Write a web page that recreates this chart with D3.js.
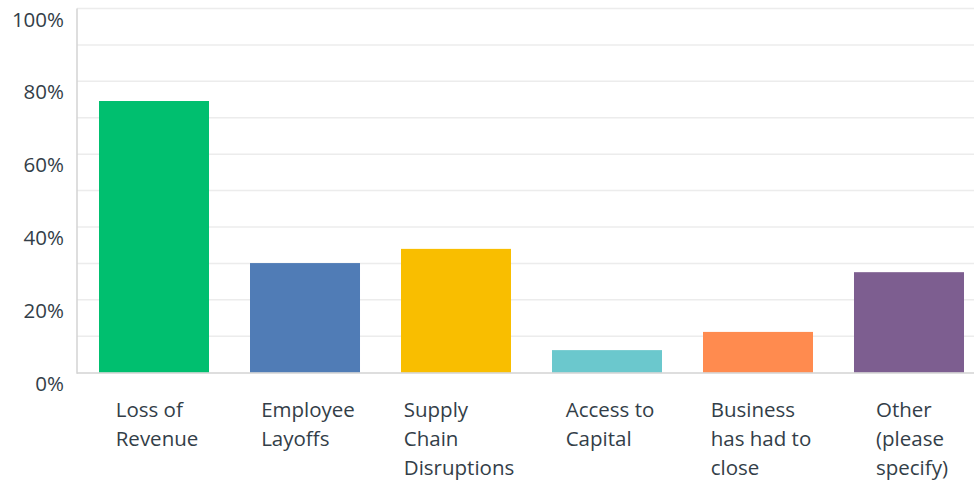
<!DOCTYPE html>
<html>
<head>
<meta charset="utf-8">
<script src="https://cdn.jsdelivr.net/npm/d3@7"></script>
<style>
  html, body { margin: 0; padding: 0; background: #fff; }
  svg { display: block; }
</style>
</head>
<body>
<svg id="chart" width="974" height="483"></svg>
<script>
// Response categories (each label split into its display lines)
const categories = [
  ["Loss of", "Revenue"],
  ["Employee", "Layoffs"],
  ["Supply", "Chain", "Disruptions"],
  ["Access to", "Capital"],
  ["Business", "has had to", "close"],
  ["Other", "(please", "specify)"]
];
// Share of respondents, percent
const values = [74.6, 30.1, 34.0, 6.2, 11.2, 27.6];
const colors = ["#00bf6f", "#507cb6", "#f9be00", "#6bc8cd", "#ff8b4f", "#7d5e90"];
const yTicks = [0, 20, 40, 60, 80, 100];
const gridTicks = [10, 20, 30, 40, 50, 60, 70, 80, 90, 100];

const svg = d3.select("#chart");
const plotLeft = 77, plotTop = 8.5, plotBottom = 372.7, plotRight = 986;
const textColor = "#333e48";
const font = "'Open Sans', sans-serif";

const keys = categories.map((d, i) => i);
const x = d3.scaleBand().domain(keys).range([plotLeft, plotRight])
  .paddingInner(0.2715).paddingOuter(0.1457);
const y = d3.scaleLinear().domain([0, 100]).range([plotBottom, plotTop]);

// Horizontal gridlines
svg.append("g").selectAll("line").data(gridTicks).join("line")
  .attr("x1", plotLeft).attr("x2", 974)
  .attr("y1", d => y(d)).attr("y2", d => y(d))
  .attr("stroke", "#ececec").attr("stroke-width", 1.5);

// Bars
svg.append("g").selectAll("rect").data(values).join("rect")
  .attr("x", (d, i) => x(i))
  .attr("width", x.bandwidth())
  .attr("y", d => y(d))
  .attr("height", d => y(0) - y(d))
  .attr("fill", (d, i) => colors[i]);

// Axis lines
svg.append("line").attr("x1", plotLeft).attr("x2", plotLeft).attr("y1", plotTop).attr("y2", plotBottom + 1)
  .attr("stroke", "#d3d3d3").attr("stroke-width", 1.5);
svg.append("line").attr("x1", plotLeft).attr("x2", 974).attr("y1", plotBottom + 0.3).attr("y2", plotBottom + 0.3)
  .attr("stroke", "#d3d3d3").attr("stroke-width", 1.5);

// Y tick labels
svg.append("g").selectAll("text").data(yTicks).join("text")
  .attr("x", 64).attr("y", d => y(d) + 18)
  .attr("text-anchor", "end")
  .attr("font-family", font).attr("font-size", 20.5)
  .attr("fill", textColor)
  .text(d => d + "%");

// X labels: left-aligned lines, block centred under each bar
const lab = svg.append("g").selectAll("g").data(categories).join("g");
lab.each(function(lines, i) {
  const g = d3.select(this);
  const t = g.append("text")
    .attr("font-family", font).attr("font-size", 20.5).attr("fill", textColor);
  lines.forEach((l, k) => {
    t.append("tspan").attr("x", 0).attr("y", 417 + k * 29).text(l);
  });
  const w = t.node().getBBox().width;
  g.attr("transform", `translate(${x(i) + x.bandwidth() / 2 - w / 2 + 3},0)`);
});
</script>
</body>
</html>
